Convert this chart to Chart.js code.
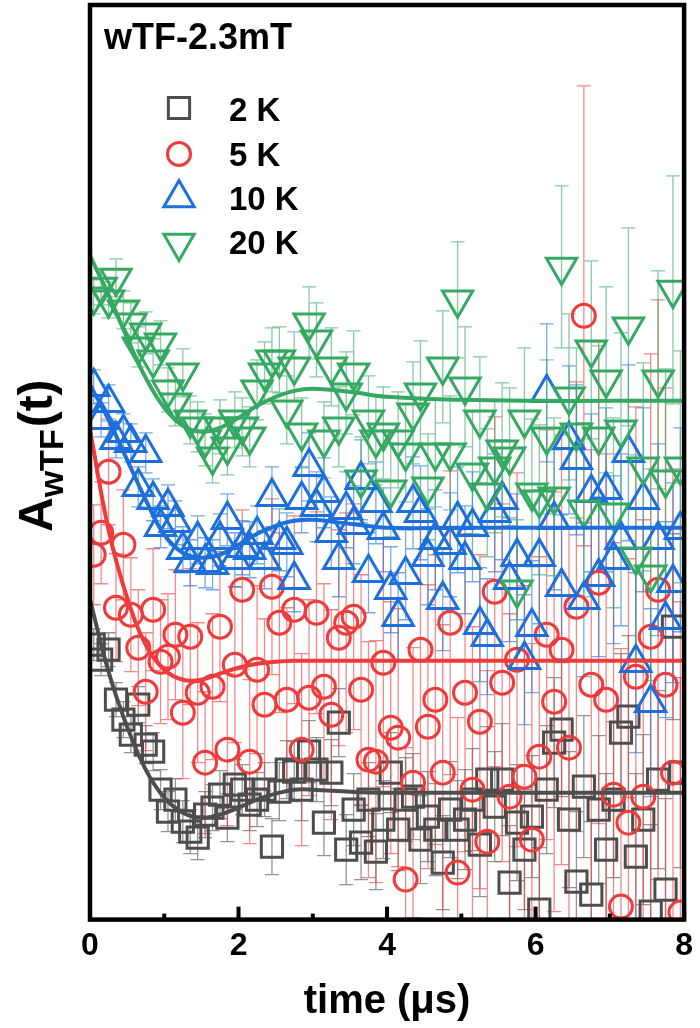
<!DOCTYPE html>
<html>
<head>
<meta charset="utf-8">
<script src="https://cdn.jsdelivr.net/npm/chart.js@4.4.0/dist/chart.umd.min.js"></script>
<style>
  html, body { margin: 0; padding: 0; background: #fff; }
  #wrap { width: 700px; height: 1028px; }
</style>
</head>
<body>
<div id="wrap"><canvas id="graficoMuon" width="700" height="1028"></canvas></div>
<script>
// tempos (us)
const tempos = [0.05,0.15,0.25,0.35,0.45,0.55,0.65,0.75,0.85,0.95,
  1.05,1.15,1.25,1.35,1.45,1.55,1.65,1.75,1.85,1.95,
  2.05,2.15,2.25,2.35,2.45,2.55,2.65,2.75,2.85,2.95,
  3.05,3.15,3.25,3.35,3.45,3.55,3.65,3.75,3.85,3.95,
  4.05,4.15,4.25,4.35,4.45,4.55,4.65,4.75,4.85,4.95,
  5.05,5.15,5.25,5.35,5.45,5.55,5.65,5.75,5.85,5.95,
  6.05,6.15,6.25,6.35,6.45,6.55,6.65,6.75,6.85,6.95,
  7.05,7.15,7.25,7.35,7.45,7.55,7.65,7.75,7.85,7.95];

const series = ['2 K', '5 K', '10 K', '20 K'];

// asimetria (unidades arbitrarias, curvas deslocadas)
const a2K = [275,260,270,220,200,185,215,175,168,130,
  108,120,98,88,82,105,112,125,102,135,
  130,115,120,130,73,128,150,148,130,168,
  150,97,147,197,70,110,77,120,68,100,
  147,90,120,123,80,103,90,57,110,90,
  100,120,75,140,113,140,37,97,70,103,
  10,130,177,190,100,38,133,25,110,70,
  120,187,203,63,100,8,140,30,293,147];
const a5K = [365,387,448,312,375,305,272,228,310,258,
  263,285,207,283,227,157,233,293,170,255,
  330,158,250,215,333,297,220,310,170,222,
  307,233,205,282,297,303,230,160,158,257,
  192,182,40,137,270,193,220,147,297,47,
  227,130,198,78,328,237,123,260,143,80,
  163,285,218,270,172,313,604,235,337,220,
  125,13,97,243,123,283,330,235,147,7];
const a10K = [533,500,517,480,487,477,433,467,420,393,
  413,397,370,357,380,357,355,380,400,360,
  372,370,385,360,423,380,375,340,420,453,
  413,427,387,360,410,395,440,347,417,390,
  330,303,345,417,407,363,380,320,375,400,
  360,393,295,283,407,420,340,363,260,293,
  363,527,400,333,480,460,320,427,343,430,
  360,380,467,257,420,217,380,300,337,390];
const a20K = [623,633,620,642,610,597,573,587,560,577,
  530,517,547,500,493,480,463,493,473,500,
  493,483,530,547,560,560,510,553,487,597,
  580,480,553,493,527,547,440,500,480,487,
  430,480,467,507,527,433,467,553,467,620,
  533,447,500,427,453,470,463,330,500,427,
  420,483,423,653,523,487,410,570,483,540,
  407,490,593,363,453,345,540,440,630,453];

// barras de erro
const e2K = [16,16,17,17,18,18,18,19,19,20,
  20,21,21,22,22,23,23,24,24,25,
  25,26,27,27,28,29,29,30,31,31,
  32,33,33,34,35,36,37,37,38,39,
  40,41,42,43,44,45,46,47,48,49,
  50,51,52,53,55,56,57,58,60,61,
  62,64,65,67,68,70,71,73,74,76,
  78,79,81,83,85,87,89,91,93,95];
const e5K = [50,51,53,54,55,57,58,59,61,62,
  63,65,66,68,70,71,73,75,76,78,
  80,82,84,86,88,90,92,94,96,98,
  101,103,105,108,110,113,115,118,121,124,
  126,129,132,135,139,142,145,148,152,155,
  159,163,167,171,175,179,183,187,191,196,
  200,205,210,215,220,225,230,235,241,246,
  252,258,264,270,277,283,290,297,304,311];
const e10K = [17,17,18,18,19,19,20,20,21,21,
  22,22,23,23,24,25,25,26,26,27,
  27,28,29,29,30,31,32,32,33,34,
  35,35,36,37,38,39,40,40,41,42,
  43,44,45,46,47,48,50,51,52,53,
  54,55,57,58,59,60,62,63,65,66,
  67,69,70,72,74,75,77,79,80,82,
  84,86,88,90,92,94,96,98,100,102];
const e20K = [17,18,18,19,19,20,20,21,21,22,
  22,23,24,24,25,26,26,27,28,28,
  29,30,30,31,32,33,34,35,35,36,
  37,38,39,40,41,42,43,44,45,46,
  47,48,49,51,52,53,54,56,57,58,
  60,61,63,64,66,67,69,70,72,74,
  75,77,79,81,83,85,87,89,91,93,
  95,97,99,102,104,106,109,111,114,116];

// curvas de ajuste
const tAjuste = [0,0.25,0.5,0.75,1,1.25,1.5,1.75,2,2.25,2.5,2.75,3,3.5,4,5,6,7,8];
const fit2K  = [320,248,193,150,122,107,102,105,112,120,126,130,130,128,127,127,127,127,127];
const fit5K  = [490,390,322,275,250,240,240,246,252,256,258,259,259,259,259,259,259,259,259];
const fit10K = [535,500,460,420,385,367,362,365,375,386,394,399,400,396,392,392,392,392,392];
const fit20K = [664,625,582,542,512,494,488,492,502,514,523,529,531,528,523,520,519,519,519];

const xTicks = [0,1,2,3,4,5,6,7,8];

const cores = ['#4d4d4d', '#ef3b3b', '#1d6fdc', '#35a862'];
const coresErro = ['rgba(77,77,77,0.6)', 'rgba(239,59,59,0.6)', 'rgba(29,111,220,0.6)', 'rgba(53,168,98,0.6)'];
const estilos = ['rect', 'circle', 'triangle', 'triangle'];
const rotacoes = [0, 0, 0, 180];
const raios = [15, 11.5, 17.5, 17.5];

const valores = [a2K, a5K, a10K, a20K];
const erros = [e2K, e5K, e10K, e20K];
const ajustes = [fit2K, fit5K, fit10K, fit20K];
const FONTE = '"Liberation Sans", Arial, sans-serif';

const datasets = [];
ajustes.forEach((f, i) => {
  datasets.push({
    type: 'line',
    label: 'fit ' + series[i],
    data: tAjuste.map((t, k) => ({ x: t, y: f[k] })),
    borderColor: cores[i],
    borderWidth: 4,
    pointRadius: 0,
    tension: 0.4,
    fill: false,
    order: 0
  });
});
valores.forEach((v, i) => {
  datasets.push({
    type: 'scatter',
    label: series[i],
    data: tempos.map((t, k) => ({ x: t, y: v[k], err: erros[i][k] })),
    pointStyle: estilos[i],
    rotation: rotacoes[i],
    pointRadius: raios[i],
    pointHoverRadius: raios[i],
    borderColor: cores[i],
    backgroundColor: 'rgba(0,0,0,0)',
    borderWidth: 3,
    order: 4 - i
  });
});

// barras de erro
const barrasErro = {
  id: 'barrasErro',
  beforeDatasetsDraw(chart) {
    const ctx = chart.ctx;
    const y = chart.scales.y;
    const area = chart.chartArea;
    ctx.save();
    ctx.beginPath();
    ctx.rect(area.left, area.top, area.right - area.left, area.bottom - area.top);
    ctx.clip();
    ctx.lineWidth = 1.3;
    [0, 1, 2, 3].forEach(i => {
      const dsIndex = 4 + i;
      const meta = chart.getDatasetMeta(dsIndex);
      const dados = chart.data.datasets[dsIndex].data;
      ctx.strokeStyle = coresErro[i];
      meta.data.forEach((el, k) => {
        const d = dados[k];
        const yTop = y.getPixelForValue(d.y + d.err);
        const yBot = y.getPixelForValue(d.y - d.err);
        ctx.beginPath();
        ctx.moveTo(el.x, yTop); ctx.lineTo(el.x, yBot);
        ctx.moveTo(el.x - 7, yTop); ctx.lineTo(el.x + 7, yTop);
        ctx.moveTo(el.x - 7, yBot); ctx.lineTo(el.x + 7, yBot);
        ctx.stroke();
      });
    });
    ctx.restore();
  }
};

// moldura, ticks, legenda e textos
const moldura = {
  id: 'moldura',
  afterDraw(chart) {
    const ctx = chart.ctx;
    const a = chart.chartArea;
    const x = chart.scales.x;
    ctx.save();
    ctx.strokeStyle = '#000';
    ctx.lineWidth = 4.5;
    ctx.strokeRect(a.left, a.top, a.right - a.left, a.bottom - a.top);
    ctx.lineWidth = 4;
    xTicks.forEach(v => {
      const px = x.getPixelForValue(v);
      const len = v % 2 === 0 ? 13 : 6;
      ctx.beginPath();
      ctx.moveTo(px, a.bottom);
      ctx.lineTo(px, a.bottom - len);
      ctx.stroke();
    });

    // titulo interno
    ctx.fillStyle = '#000';
    ctx.textBaseline = 'alphabetic';
    ctx.textAlign = 'left';
    ctx.font = 'bold 36px ' + FONTE;
    ctx.fillText('wTF-2.3mT', 104, 49);

    // legenda
    const linhas = [108, 154, 198, 243];
    const bases = [121, 166, 210, 254];
    series.forEach((nome, i) => {
      ctx.save();
      ctx.strokeStyle = cores[i];
      ctx.fillStyle = 'rgba(0,0,0,0)';
      ctx.lineWidth = 3;
      Chart.helpers.drawPoint(ctx, {
        pointStyle: estilos[i], rotation: rotacoes[i], radius: raios[i], borderWidth: 3
      }, 179, linhas[i]);
      ctx.restore();
      ctx.fillStyle = '#000';
      ctx.font = 'bold 33px ' + FONTE;
      ctx.fillText(nome, 229, bases[i]);
    });

    // titulo do eixo y com subscrito
    ctx.translate(52, 532);
    ctx.rotate(-Math.PI / 2);
    ctx.textAlign = 'left';
    ctx.font = 'bold 48px ' + FONTE;
    ctx.fillText('A', 0, 0);
    let pos = ctx.measureText('A').width;
    ctx.font = 'bold 34px ' + FONTE;
    ctx.fillText('wTF', pos, 11);
    pos += ctx.measureText('wTF').width + 2;
    ctx.font = 'bold 48px ' + FONTE;
    ctx.fillText('(t)', pos, 0);
    ctx.restore();
  }
};

const ctx = document.getElementById('graficoMuon').getContext('2d');
new Chart(ctx, {
  type: 'scatter',
  data: { datasets: datasets },
  options: {
    responsive: false,
    animation: false,
    events: [],
    layout: { autoPadding: false, padding: { left: 90, right: 12, top: 5, bottom: 2 } },
    plugins: {
      legend: { display: false },
      tooltip: { enabled: false }
    },
    scales: {
      x: {
        type: 'linear',
        min: 0,
        max: 8,
        afterBuildTicks: axis => { axis.ticks = xTicks.map(v => ({ value: v })); },
        ticks: {
          autoSkip: false,
          maxRotation: 0,
          padding: 7,
          color: '#000',
          font: { family: FONTE, size: 32, weight: 'bold' },
          callback: v => (v % 2 === 0 ? String(v) : '')
        },
        grid: { display: false, drawTicks: false },
        border: { display: false },
        title: {
          display: true,
          text: 'time (\u03bcs)',
          color: '#000',
          font: { family: FONTE, size: 40, weight: 'bold' },
          padding: { top: 6, bottom: 0 }
        }
      },
      y: {
        type: 'linear',
        min: 0,
        max: 915,
        display: false
      }
    }
  },
  plugins: [barrasErro, moldura]
});
</script>
</body>
</html>
